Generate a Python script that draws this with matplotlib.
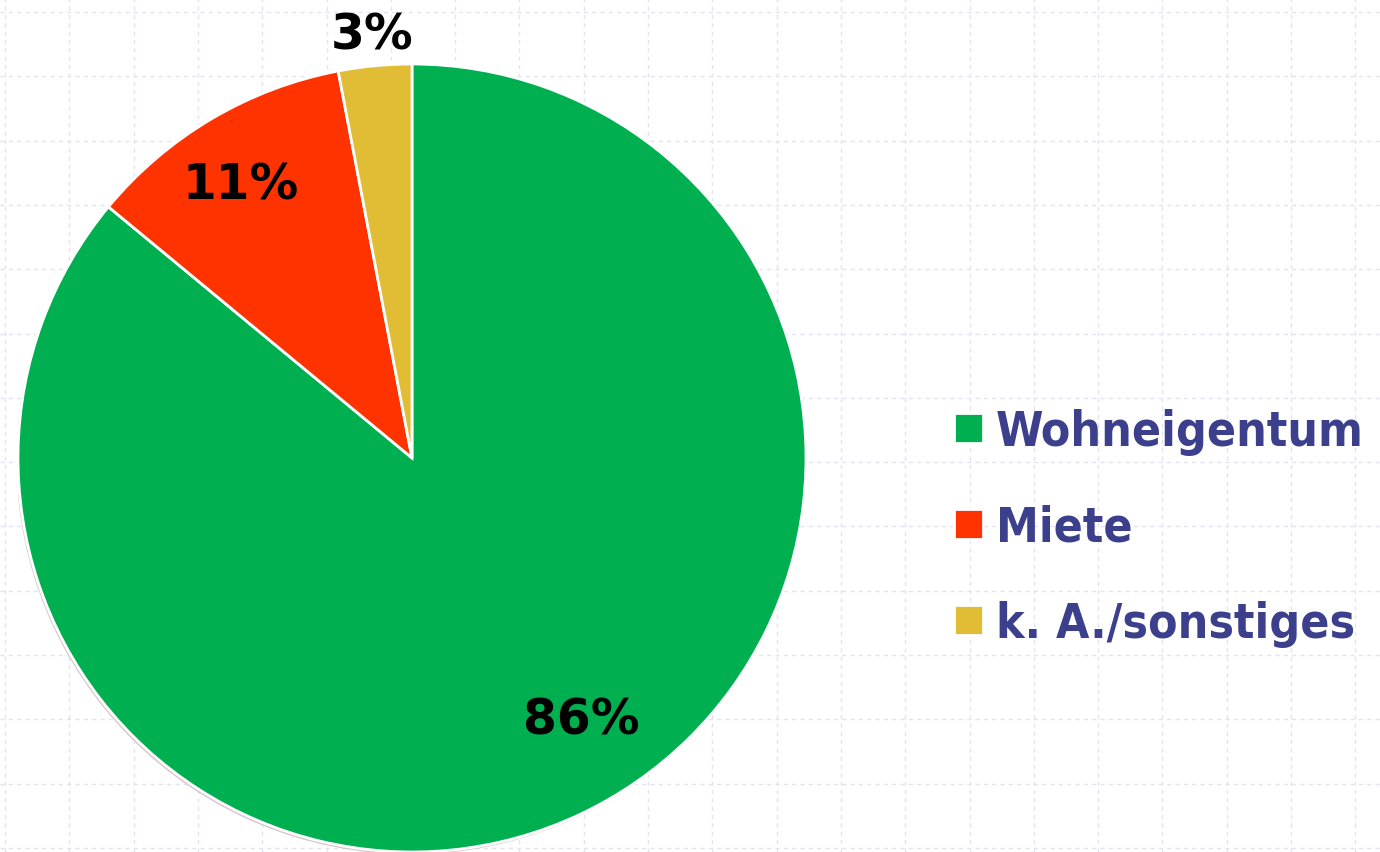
import numpy as np
import matplotlib
matplotlib.use("Agg")
import matplotlib.pyplot as plt
from matplotlib import font_manager
from matplotlib.patches import Circle

# ---- data ----
categories = ["Wohneigentum", "Miete", "k. A./sonstiges"]
shares = [86, 11, 3]
colors = ["#00B050", "#FF3300", "#E0BD35"]
pct_labels = ["86%", "11%", "3%"]

W, H, DPI = 1380, 853, 100
fig = plt.figure(figsize=(W / DPI, H / DPI), dpi=DPI, facecolor="white")

# ---- background grid (decorative, like the slide template) ----
bg = fig.add_axes([0, 0, 1, 1], zorder=0)
bg.set_xlim(0, W)
bg.set_ylim(H, 0)
bg.set_xticks(np.arange(5, W, 64.3))
bg.set_yticks(np.arange(13, H, 64.3))
bg.grid(True, color="#E2E3F3", lw=1.0, linestyle=(0, (3, 3)))
bg.tick_params(length=0, labelbottom=False, labelleft=False)
for s in bg.spines.values():
    s.set_visible(False)

# ---- pie ----
cx, cy, r = 412, 459, 394
ax = fig.add_axes([(cx - r) / W, (H - cy - r) / H, 2 * r / W, 2 * r / H], zorder=1)
ax.patch.set_alpha(0)
ax.add_patch(Circle((-0.004, -0.006), 1.0, facecolor="#D6C6CA", edgecolor="none", zorder=0))
wedges, _ = ax.pie(shares, colors=colors, startangle=90, counterclock=False,
                   radius=1.0,
                   wedgeprops=dict(edgecolor="white", linewidth=2, zorder=1))
ax.set_xlim(-1, 1)
ax.set_ylim(-1, 1)
ax.set_aspect("equal")

dist = [0.79, 0.82, 1.08]
ang_off = [7.8, 1.5, 0.0]
for w, lab, d, a in zip(wedges, pct_labels, dist, ang_off):
    mid = np.deg2rad((w.theta1 + w.theta2) / 2 + a)
    ax.text(d * np.cos(mid), d * np.sin(mid), lab, ha="center", va="center",
            fontsize=35, fontweight="bold", family="DejaVu Sans", color="black",
            clip_on=False, zorder=3)

# ---- legend ----
cond = None
for f in font_manager.fontManager.ttflist:
    if "Condensed-Bold." in f.fname and "DejaVuSans" in f.fname.replace(" ", ""):
        cond = f.fname
        break
if cond:
    lprop = font_manager.FontProperties(fname=cond, size=34.5)
else:
    lprop = font_manager.FontProperties(family="DejaVu Sans", weight="bold", size=31)

leg = fig.legend(wedges, categories, loc="center left",
                 bbox_to_anchor=(954 / W, 1 - 528.5 / H), frameon=False,
                 prop=lprop, handlelength=0.6, handleheight=0.6,
                 handletextpad=0.28, labelspacing=1.02, borderpad=0,
                 borderaxespad=0)
for t in leg.get_texts():
    t.set_color("#3B3F8C")

fig.savefig("out.png", dpi=DPI, facecolor="white")
